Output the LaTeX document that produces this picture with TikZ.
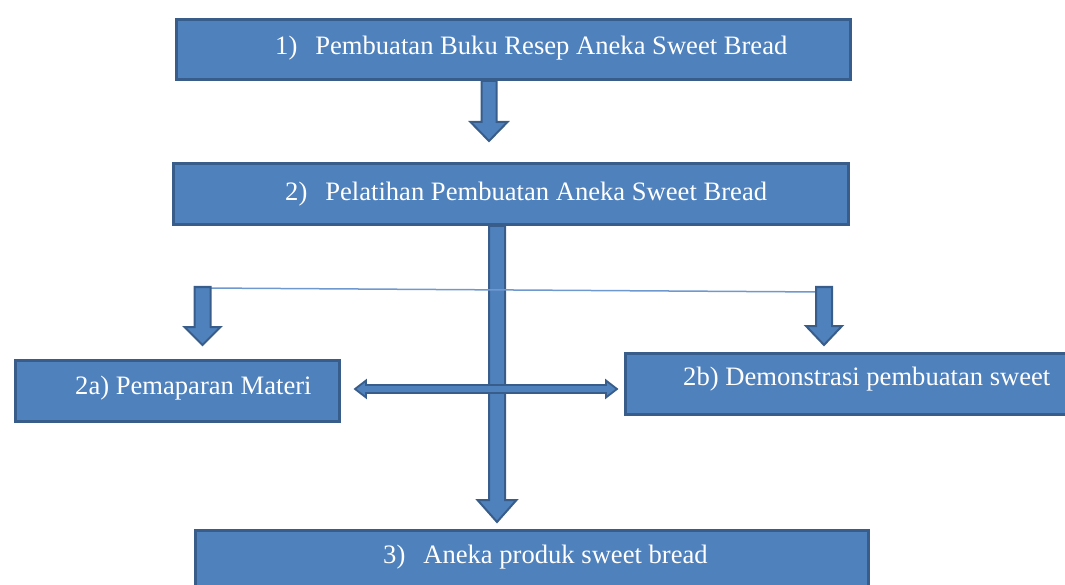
\documentclass[tikz,border=0pt]{standalone}
\usepackage{fontspec}
\setmainfont{Liberation Serif}
\usetikzlibrary{calc}
\definecolor{boxfill}{HTML}{4F81BD}
\definecolor{boxline}{HTML}{385D8A}
\definecolor{thinline}{HTML}{7098D0}
\tikzset{
  box/.style={draw=boxline, line width=3.5pt, fill=boxfill, rectangle, inner sep=0pt},
  lbl/.style={text=white, font=\fontsize{26.6}{30}\selectfont, anchor=west, inner sep=0pt},
  blk/.style={draw=boxline, line width=2pt, fill=boxfill, line join=miter},
}
% down block arrow: x, ytop, ytip, shaft half width, head half width, head length
\newcommand{\downarrowblk}[6]{%
  \draw[blk] (#1-#4,#2) -- (#1+#4,#2) -- (#1+#4,#3-#6) -- (#1+#5,#3-#6) -- (#1,#3)
    -- (#1-#5,#3-#6) -- (#1-#4,#3-#6) -- cycle;}
\begin{document}
\begin{tikzpicture}[x=1pt,y=-1pt]
\useasboundingbox (0,0) rectangle (1065,585);
% boxes
\node[box, minimum width=674pt, minimum height=60pt, anchor=north west] (b1) at (174.75,17.75) {};
\node[box, minimum width=675pt, minimum height=61pt, anchor=north west] (b2) at (171.75,161.75) {};
\node[box, minimum width=324pt, minimum height=61pt, anchor=north west] (b2a) at (13.75,358.75) {};
\node[box, minimum width=460pt, minimum height=61pt, anchor=north west] (b2b) at (623.75,351.75) {};
\node[box, minimum width=673pt, minimum height=70pt, anchor=north west] (b3) at (193.75,528.75) {};
% labels
\node[lbl] (t1) at (275,48) {1)\hspace{18pt}Pembuatan Buku Resep Aneka Sweet Bread};
\node[lbl] (t2) at (285,194) {2)\hspace{18pt}Pelatihan Pembuatan Aneka Sweet Bread};
\node[lbl] (t2a) at (75,388) {2a) Pemaparan Materi};
\node[lbl] (t2b) at (683,379) {2b) Demonstrasi pembuatan sweet};
\node[lbl] (t3) at (383,557) {3)\hspace{18pt}Aneka produk sweet bread};
% arrow 1 -> 2
\downarrowblk{489}{81}{141}{7.5}{18.5}{19}
% long arrow 2 -> 3
\downarrowblk{497}{226}{522}{8}{19.5}{22}
% thin branch line
\coordinate (bl) at (203,288);
\coordinate (br) at (824,292);
\draw[thinline, line width=1.5pt] (bl) -- (br);
% branch arrows
\downarrowblk{202.5}{287}{345}{8}{18}{18}
\downarrowblk{824}{287}{345}{8}{18}{19}
% double arrow between 2a and 2b
\draw[blk, line width=1.8pt] (355,389) -- (366,380.5) -- (366,385) -- (606,385) -- (606,380.5) -- (617,389)
  -- (606,397.5) -- (606,393) -- (366,393) -- (366,397.5) -- cycle;
\end{tikzpicture}
\end{document}
